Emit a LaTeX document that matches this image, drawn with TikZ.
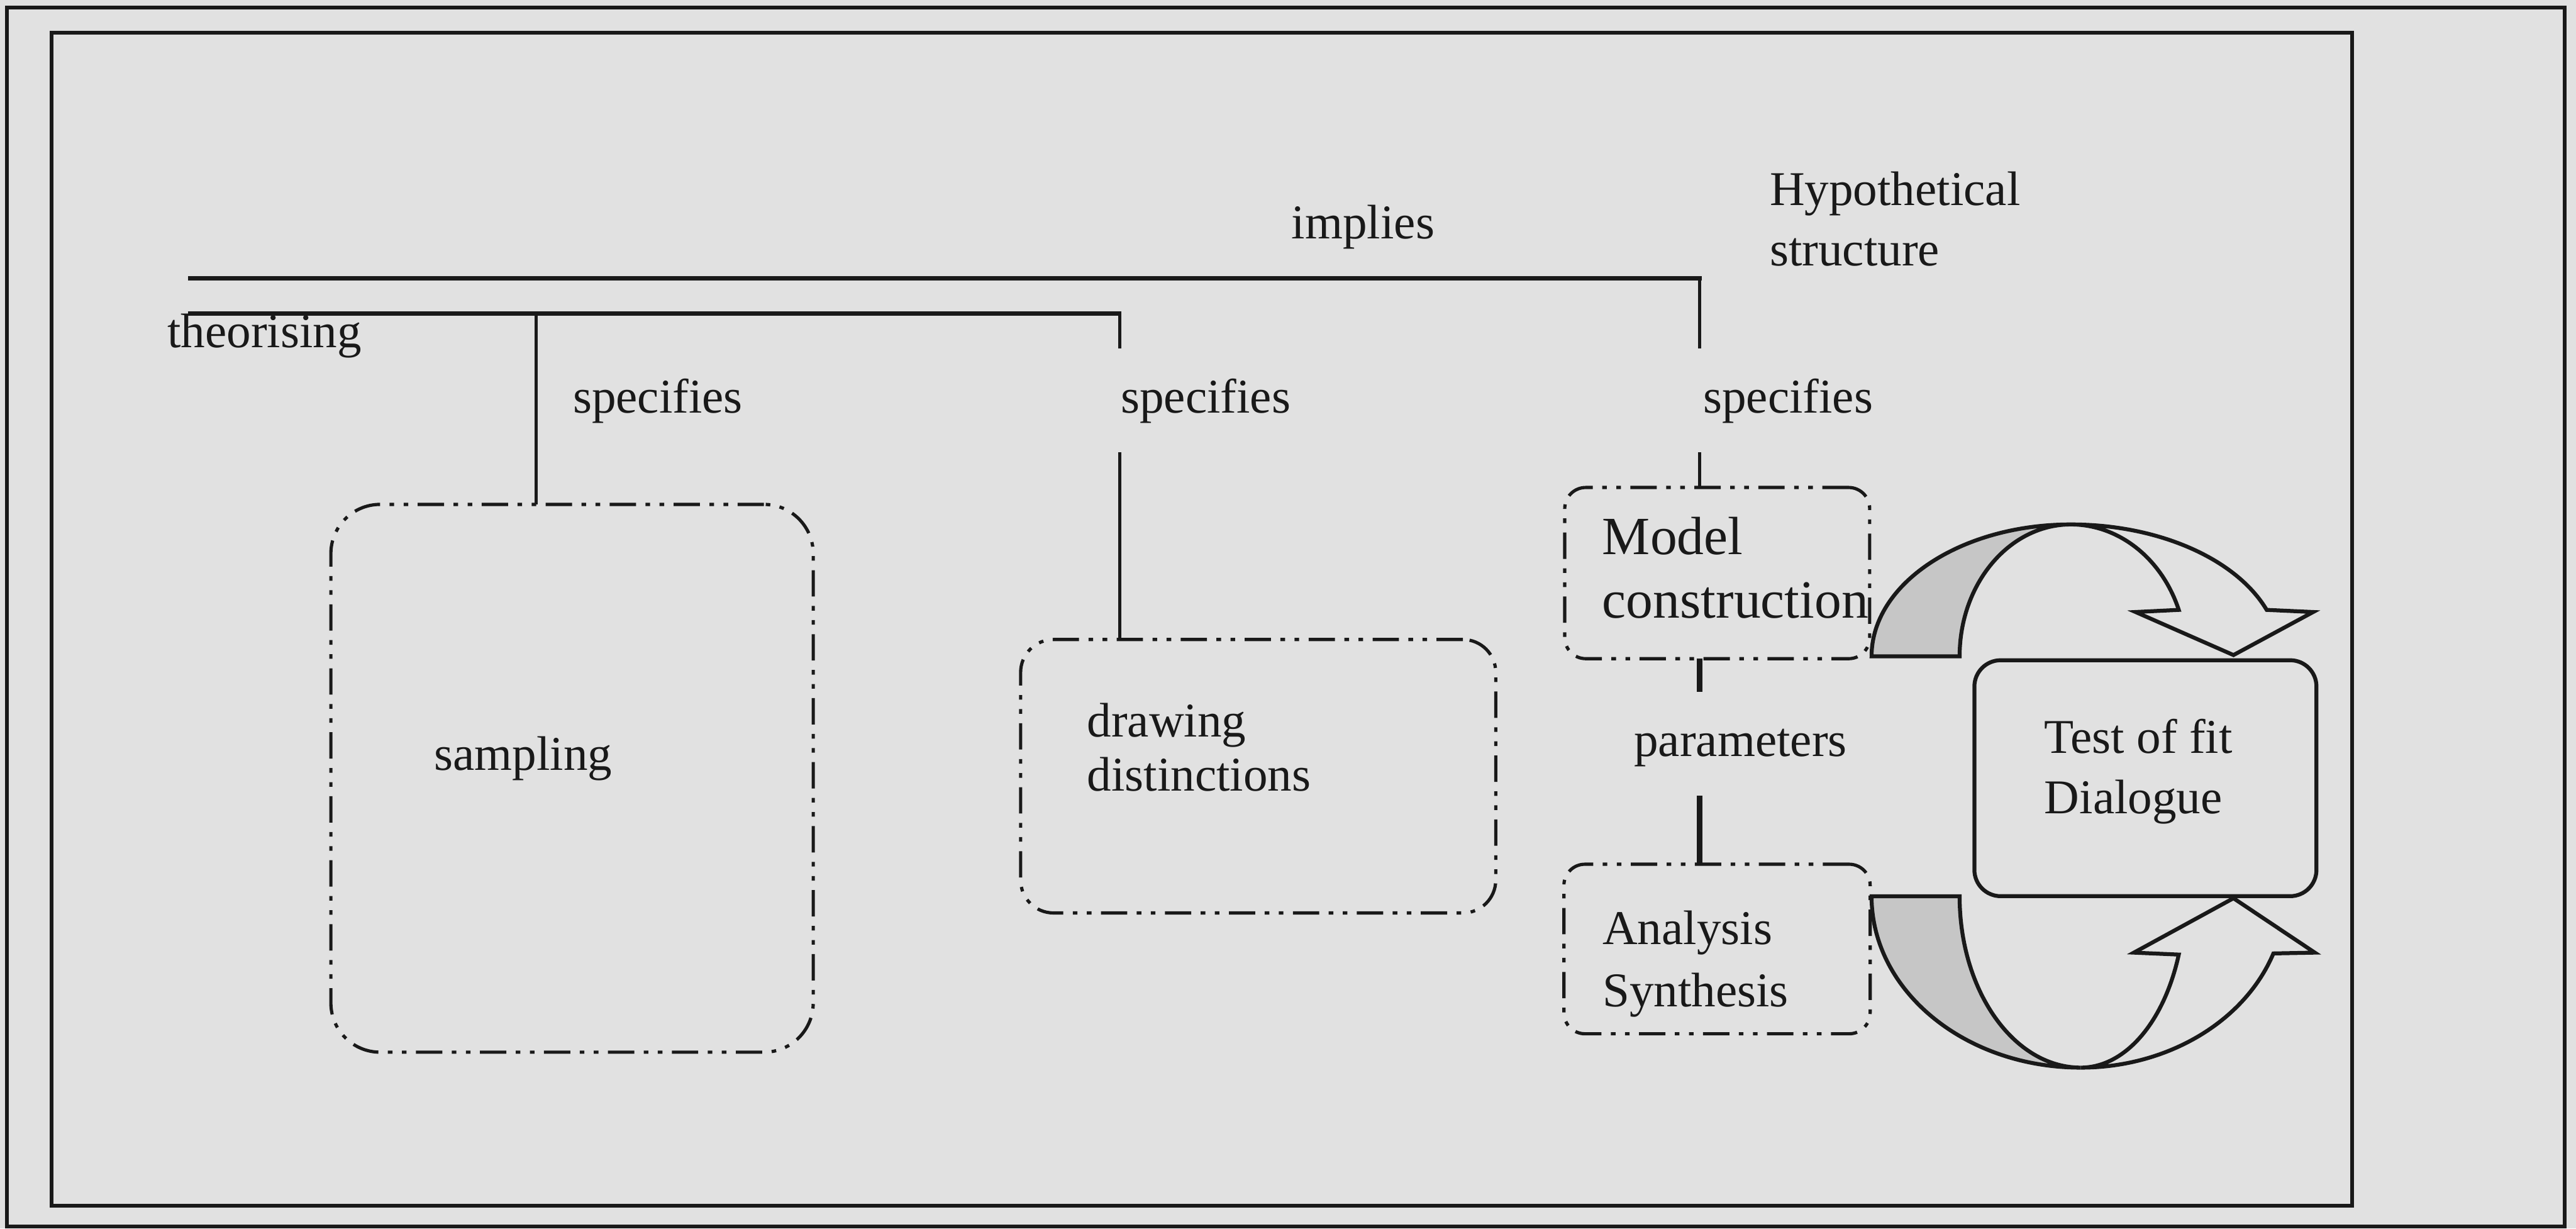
\documentclass[tikz,border=0pt]{standalone}
\usepackage{fontspec}
\setmainfont{Liberation Serif}
\definecolor{bg}{RGB}{225,225,225}
\definecolor{shade}{RGB}{198,198,198}
\definecolor{ink}{RGB}{25,25,25}
\tikzset{
  frame/.style={draw=ink, line width=1.55pt},
  heavy/.style={draw=ink, line width=1.7pt, line cap=rect},
  conn/.style={draw=ink, line width=1.5pt},
  boldconn/.style={draw=ink, line width=2.3pt},
  ddbox/.style={draw=ink, line width=1.4pt, rectangle, rounded corners=#1,
    inner sep=0pt, outer sep=0pt,
    dash pattern=on 11.4pt off 4.1pt on 2pt off 4.1pt on 2pt off 4.1pt},
  solidbox/.style={draw=ink, line width=1.7pt, rectangle, rounded corners=4mm,
    inner sep=0pt, outer sep=0pt},
  txt/.style={font=\fontsize{21pt}{26pt}\selectfont, text=ink, inner sep=0pt, anchor=base west},
  bigtxt/.style={font=\fontsize{23.3pt}{28pt}\selectfont, text=ink, inner sep=0pt, anchor=base west},
  lbl/.style={txt, fill=bg, inner xsep=2.5mm, inner ysep=0pt, text height=9.8mm, text depth=6mm},
  band/.style={draw=ink, line width=1.7pt, line join=miter},
}
\begin{document}
\begin{tikzpicture}[x=0.25mm, y=-0.25mm]
\useasboundingbox (0,0) rectangle (1568,747.7);
\fill[bg] (0,0) rectangle (1568,747.7);

% frames
\draw[frame] (4.3,4.5) rectangle (1561,746.5);
\draw[frame] (31.5,19.8) rectangle (1431.6,733.9);

% boxes
\node[ddbox=7.5mm, minimum width=73.4mm, minimum height=83.35mm] (samp) at (348.2,473.7) {};
\node[ddbox=5mm, minimum width=72.3mm, minimum height=41.6mm] (dist) at (765.85,472.45) {};
\node[ddbox=3.2mm, minimum width=46.4mm, minimum height=26.05mm] (model) at (1045.25,348.8) {};
\node[ddbox=3.2mm, minimum width=46.6mm, minimum height=25.8mm] (anal) at (1045.15,577.6) {};
\node[solidbox, minimum width=52.05mm, minimum height=35.9mm] (test) at (1305.9,473.65) {};

% connector coordinates
\coordinate (t1) at (115.6,169.4);
\coordinate (k3) at (1034.5,169.4);
\coordinate (t2) at (115.6,190.8);
\coordinate (k2) at (681.5,190.8);
\coordinate (k1) at (326.3,190.8);

\draw[conn] (k1) -- (k1 |- samp.north);
\draw[conn] (k2) -- (k2 |- dist.north);
\draw[conn] (k3) -- (k3 |- model.north);
\draw[boldconn] (k3 |- model.south) -- (k3 |- anal.north);
\draw[heavy] (t1) -- (k3);
\draw[heavy] (t2) -- (k2);

% labels
\node[txt] (implies) at (786,145.3) {implies};
\node[txt] (hyp1) at (1077,125.1) {Hypothetical};
\node[txt] (hyp2) at (1077,161.6) {structure};
\node[txt] (theor) at (101.7,211.6) {theorising};
\node[txt] (spec1) at (348.5,251.4) {specifies};
\node[lbl] (spec2) at (672,251.2) {specifies};
\node[lbl] (spec3) at (1026.5,251.2) {specifies};
\node[lbl] (param) at (984.4,460.3) {parameters};

% box texts
\node[txt] (sampt) at (264,468.7) {sampling};
\node[txt] (dist1) at (661.5,448.4) {drawing};
\node[txt] (dist2) at (661.5,481.4) {distinctions};
\node[bigtxt] (mod1) at (975.1,337.4) {Model};
\node[bigtxt] (mod2) at (975.1,376.3) {construction};
\node[txt] (an1) at (975.2,574.8) {Analysis};
\node[txt] (an2) at (975.2,612.8) {Synthesis};
\node[txt] (test1) at (1244.2,458.3) {Test of fit};
\node[txt] (test2) at (1244.2,495) {Dialogue};

% upper curved arrow
\filldraw[band, fill=shade] (1139.2,399.5) .. controls (1139.2,355.2) and (1193.5,319.2) .. (1260.5,319.2)
  .. controls (1223.1,319.2) and (1192.8,355.2) .. (1192.8,399.5) -- cycle;
\filldraw[band, fill=bg] (1260.5,319.2) .. controls (1313.6,319.2) and (1361.0,339.9) .. (1379.7,371.2)
  -- (1408,372.5) -- (1359.5,398.7) -- (1299.9,372.5) -- (1326.2,371.2)
  .. controls (1315.9,339.9) and (1289.7,319.2) .. (1260.5,319.2) -- cycle;

% lower curved arrow
\filldraw[band, fill=shade] (1139.2,545.5) .. controls (1139.2,603.1) and (1196.2,649.8) .. (1266.5,649.8)
  .. controls (1225.8,649.8) and (1192.8,603.1) .. (1192.8,545.5) -- cycle;
\filldraw[band, fill=bg] (1266.5,649.8) .. controls (1319.1,649.8) and (1366.2,621.9) .. (1383.8,580.3)
  -- (1409,579.8) -- (1359.5,546.7) -- (1298.9,579.8) -- (1326.2,581)
  .. controls (1317.1,622.5) and (1293.4,649.8) .. (1266.5,649.8) -- cycle;
\end{tikzpicture}
\end{document}
